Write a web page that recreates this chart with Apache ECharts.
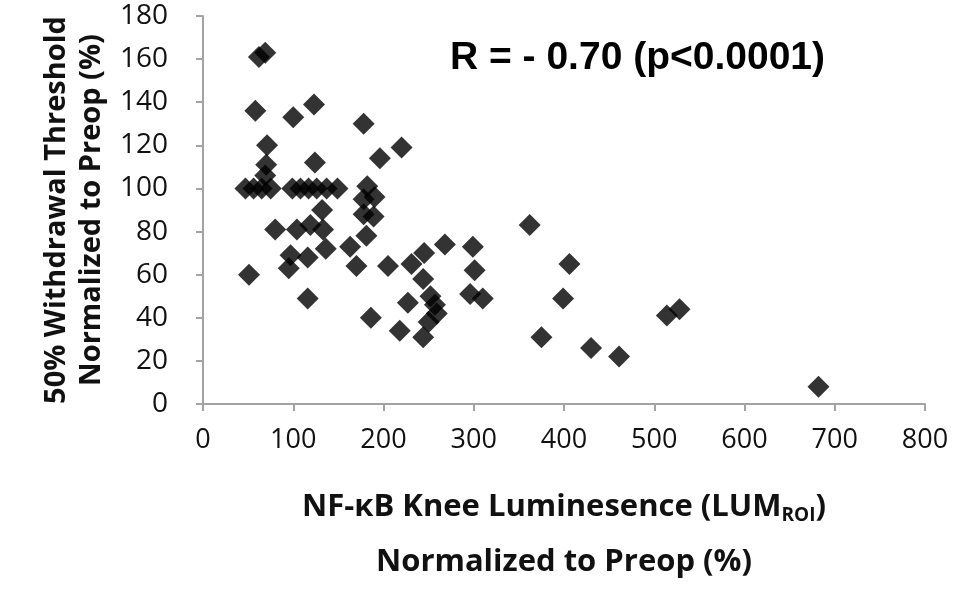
<!DOCTYPE html>
<html><head><meta charset="utf-8">
<script src="https://cdn.jsdelivr.net/npm/echarts@6/dist/echarts.min.js"></script>
<style>html,body{margin:0;padding:0;background:#fff}#c{width:956px;height:600px}</style>
</head><body><div id="c"></div>
<script>
// NF-kB knee luminescence (% of preop)
const lumValues = [62, 69, 58, 100, 123, 71, 124, 70, 69,
  47, 56, 65, 75, 99, 108, 117, 126, 137, 149,
  182, 178, 190, 178, 189, 181, 178, 196, 220,
  132, 80, 104, 119, 133, 136, 97, 116, 95, 51, 116,
  163, 170, 186, 205, 231, 245, 244, 227, 218,
  252, 257, 259, 250, 244, 268, 299, 301, 296, 310,
  362, 406, 399, 375, 430, 461, 514, 528, 682];
// 50% withdrawal threshold (% of preop)
const thresholdValues = [161, 163, 136, 133, 139, 120, 112, 111, 106,
  100, 100, 100, 100, 100, 100, 100, 100, 100, 100,
  101, 95, 96, 88, 87, 78, 130, 114, 119,
  90, 81, 81, 83, 81, 72, 69, 68, 63, 60, 49,
  73, 64, 40, 64, 65, 70, 58, 47, 34,
  50, 46, 42, 38, 31, 74, 73, 62, 51, 49,
  83, 65, 49, 31, 26, 22, 41, 44, 8];
const xTickValues = [0, 100, 200, 300, 400, 500, 600, 700, 800];
const yTickValues = [0, 20, 40, 60, 80, 100, 120, 140, 160, 180];
const annotation = 'R = - 0.70 (p<0.0001)';

const points = lumValues.map((v, i) => [v, thresholdValues[i]]);
const axisGray = '#a3a3a3';
const tickFont = 'Open Sans';
const titleFont = 'Open Sans';

const chart = echarts.init(document.getElementById('c'), null, {renderer: 'canvas'});
chart.setOption({
  backgroundColor: '#fff',
  animation: false,
  title: {
    text: annotation,
    left: 445, top: 34,
    textStyle: {fontFamily: 'Liberation Sans', fontWeight: 'bold', fontSize: 39, color: '#000'}
  },
  grid: {left: 203, right: 31, top: 16, bottom: 196, containLabel: false},
  xAxis: {
    type: 'value', min: xTickValues[0], max: xTickValues[xTickValues.length - 1], interval: 100,
    axisLine: {show: true, lineStyle: {color: axisGray, width: 2}},
    axisTick: {show: true, inside: false, length: 7, lineStyle: {color: axisGray, width: 2}},
    splitLine: {show: false},
    axisLabel: {margin: 23, fontFamily: tickFont, fontSize: 27, color: '#111'},
    name: '{b|NF-κB Knee Luminesence (LUM}{s|ROI}{b|)}\n{b|Normalized to Preop (%)}',
    nameLocation: 'middle', nameGap: 76,
    nameTextStyle: {
      rich: {
        b: {fontFamily: titleFont, fontWeight: 'bold', fontSize: 31, color: '#111', lineHeight: 55},
        s: {fontFamily: titleFont, fontWeight: 'bold', fontSize: 19, color: '#111', lineHeight: 55, verticalAlign: 'middle', padding: [16, 0, 0, 0]}
      }
    }
  },
  yAxis: {
    type: 'value', min: yTickValues[0], max: yTickValues[yTickValues.length - 1], interval: 20,
    axisLine: {show: true, lineStyle: {color: axisGray, width: 2}},
    axisTick: {show: true, inside: false, length: 7, lineStyle: {color: axisGray, width: 2}},
    splitLine: {show: false},
    axisLabel: {margin: 35, fontFamily: tickFont, fontSize: 28, color: '#111'},
    name: '50% Withdrawal Threshold\nNormalized to Preop (%)',
    nameLocation: 'middle', nameGap: 93, nameRotate: 90,
    nameTextStyle: {fontFamily: titleFont, fontWeight: 'bold', fontSize: 29, color: '#111', lineHeight: 35}
  },
  series: [{
    type: 'scatter',
    data: points,
    symbol: 'diamond',
    symbolSize: 22,
    itemStyle: {color: '#000'}
  }]
});
</script>
</body></html>
